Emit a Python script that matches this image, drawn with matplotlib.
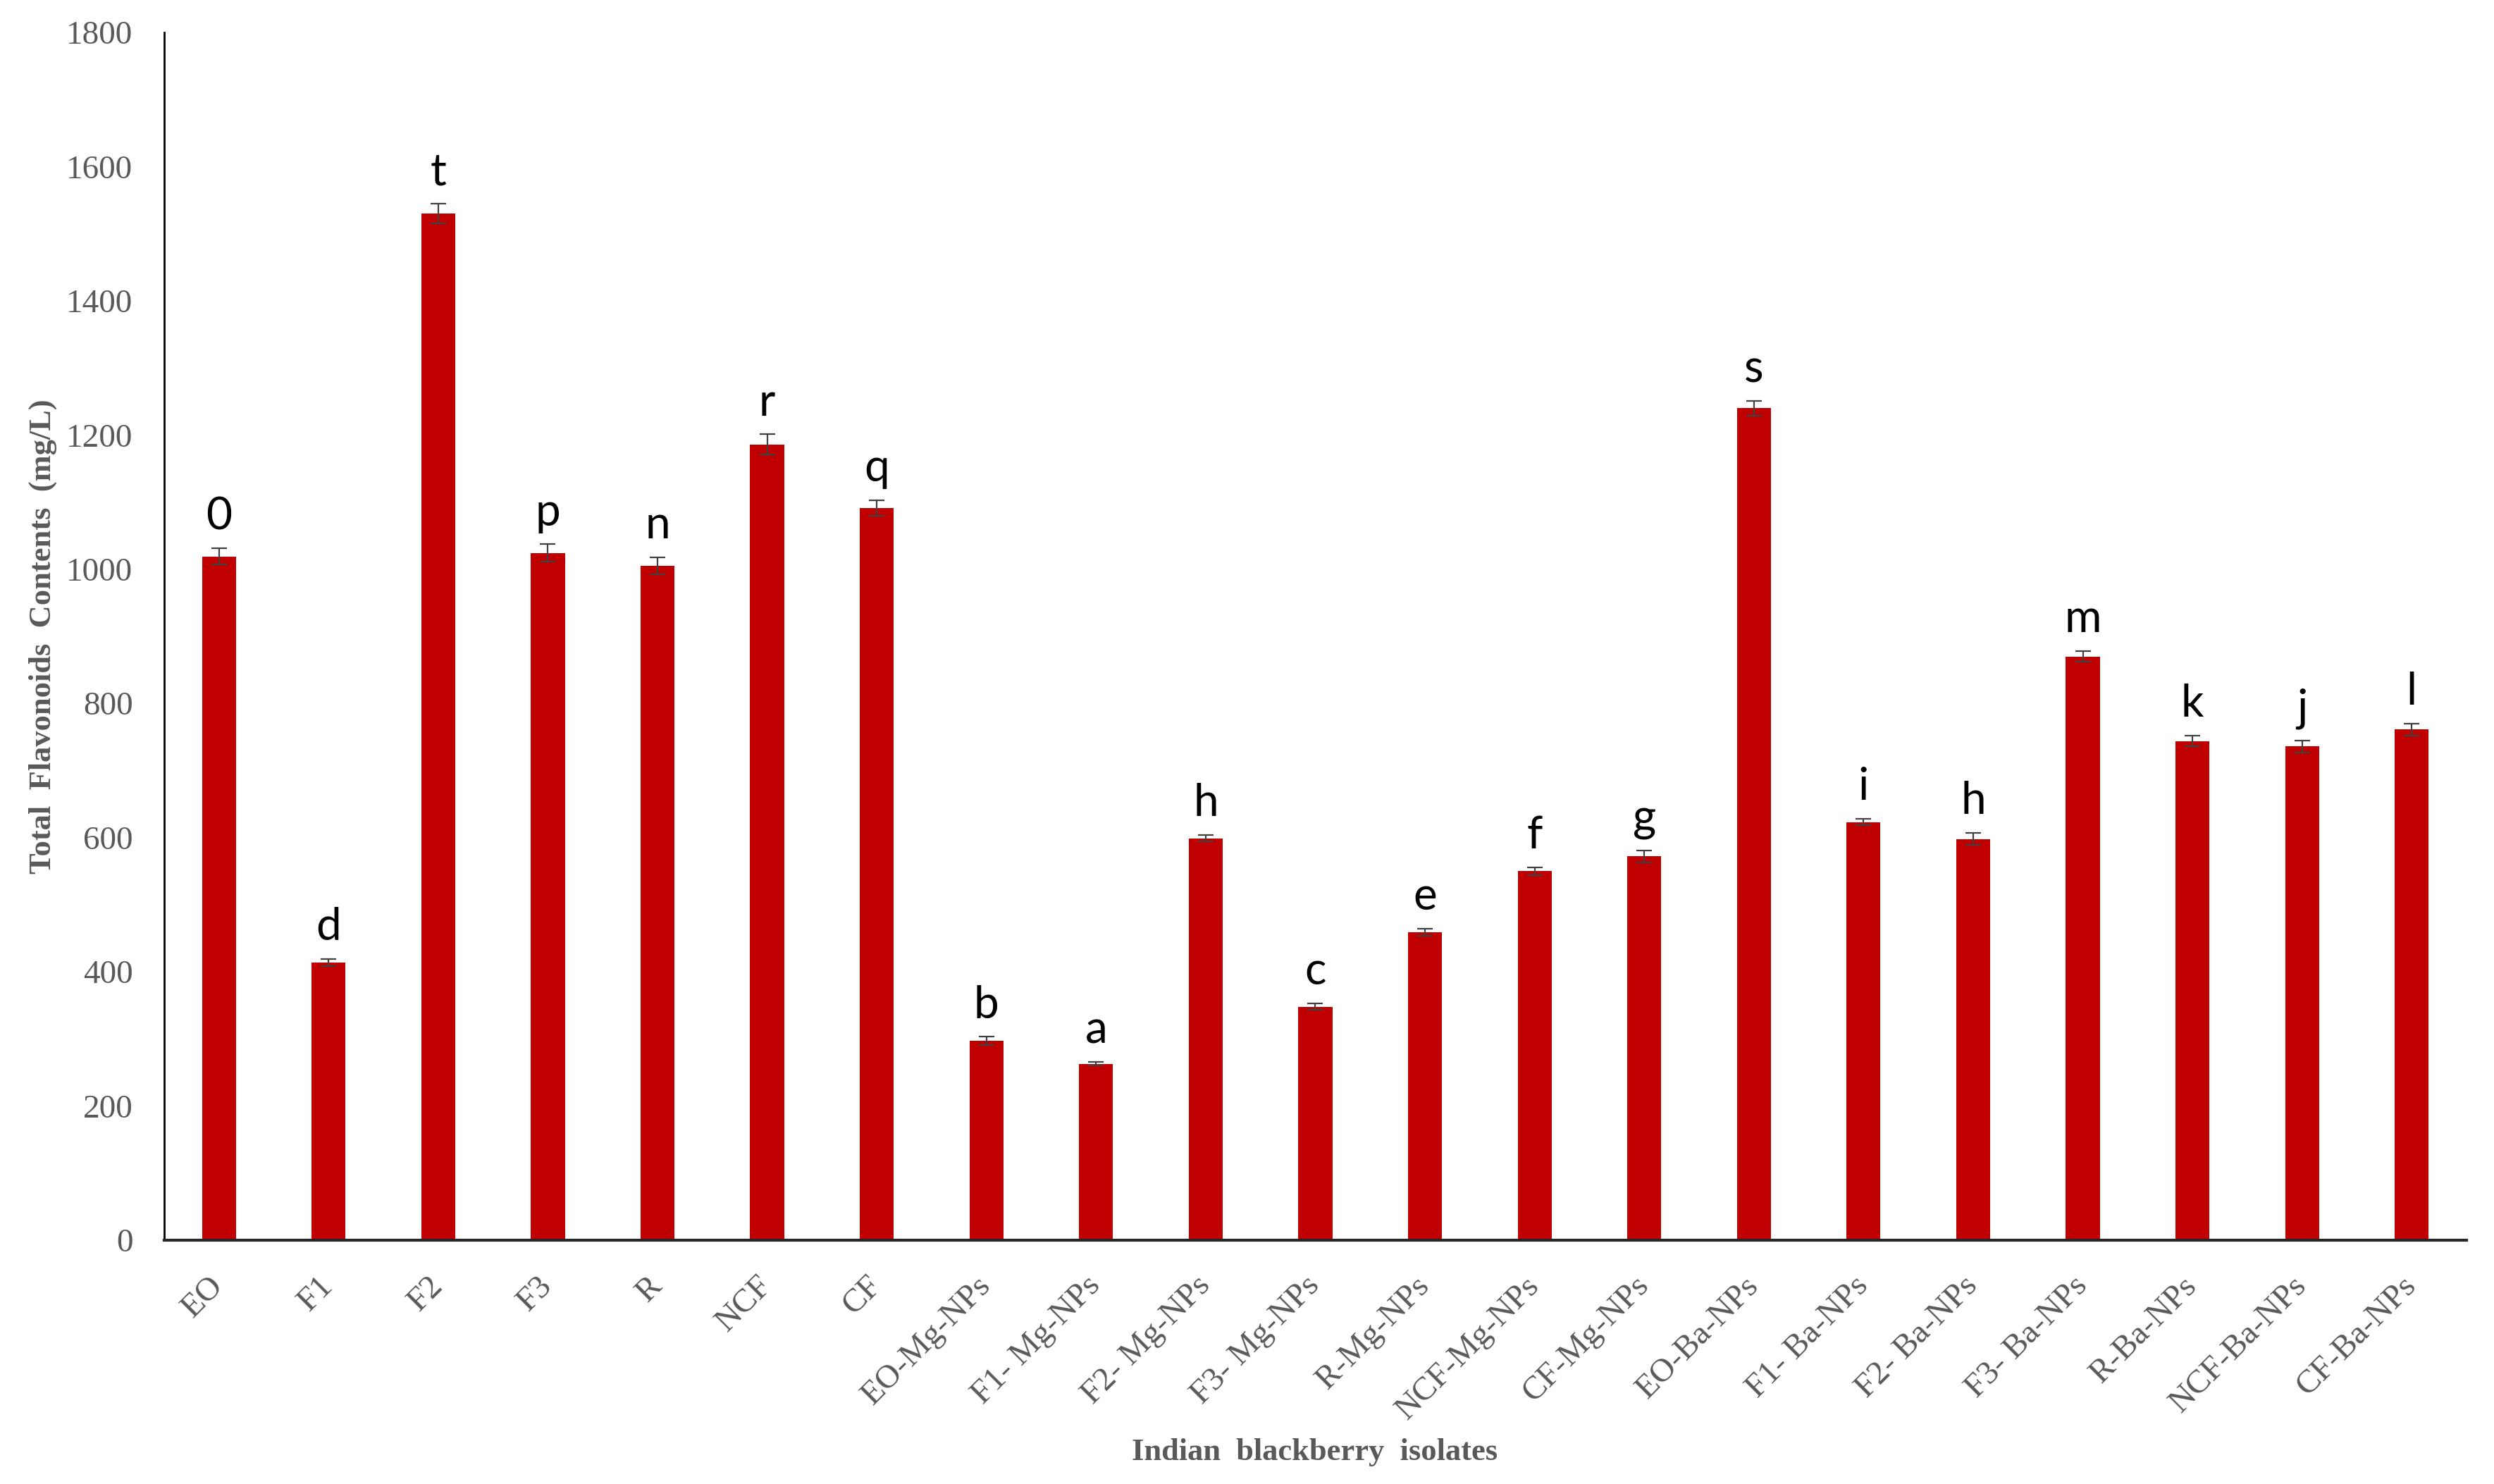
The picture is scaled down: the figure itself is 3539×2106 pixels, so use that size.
import numpy as np
import matplotlib.pyplot as plt

# Total flavonoid content of Indian blackberry isolates
isolados = ["EO", "F1", "F2", "F3", "R", "NCF", "CF",
            "EO-Mg-NPs", "F1- Mg-NPs", "F2- Mg-NPs", "F3- Mg-NPs", "R-Mg-NPs",
            "NCF-Mg-NPs", "CF-Mg-NPs",
            "EO-Ba-NPs", "F1- Ba-NPs", "F2- Ba-NPs", "F3- Ba-NPs", "R-Ba-NPs",
            "NCF-Ba-NPs", "CF-Ba-NPs"]
flavonoides = [1019, 414, 1530, 1024, 1005, 1186, 1091,
               297, 263, 599, 348, 459, 550, 572,
               1240, 623, 598, 870, 744, 736, 761]
erro = [12, 5, 15, 13, 13, 15, 12,
        6, 3, 5, 5, 5, 6, 9,
        11, 5, 9, 8, 8, 9, 9]
letras = ["0", "d", "t", "p", "n", "r", "q",
          "b", "a", "h", "c", "e", "f", "g",
          "s", "i", "h", "m", "k", "j", "l"]

cinza = "#595959"
x = np.arange(len(isolados))

fig = plt.figure(figsize=(35.39, 21.06), dpi=100)
ax = fig.add_axes([0.0658, 0.1643, 0.9232, 0.8139])

ax.bar(x, flavonoides, width=0.31, color="#C00000", zorder=2)
ax.errorbar(x, flavonoides, yerr=erro, fmt="none", ecolor="#404040",
            elinewidth=1.6, capsize=8, capthick=1.6, zorder=3)

# letras de significância acima das barras
for xi, v, e, l in zip(x, flavonoides, erro, letras):
    ax.text(xi, v + e + 28, l, ha="center", va="baseline",
            fontsize=46, family="Lato", color="black")

ax.set_xlim(-0.5, len(isolados) - 0.5)
ax.set_ylim(0, 1800)
ax.set_yticks(range(0, 1801, 200))
ax.set_xticks(x)
ax.set_xticklabels(isolados, rotation=45, ha="right", va="center",
                   rotation_mode="anchor", family="Liberation Serif",
                   fontsize=34, color=cinza)
for t in ax.get_yticklabels():
    t.set_family("Liberation Serif")
    t.set_fontsize(34)
    t.set_color(cinza)

ax.tick_params(axis="both", length=0)
ax.tick_params(axis="y", pad=32)
ax.tick_params(axis="x", pad=42)

for s in ["top", "right"]:
    ax.spines[s].set_visible(False)
ax.spines["left"].set_color("black")
ax.spines["left"].set_linewidth(2)
ax.spines["bottom"].set_color("#262626")
ax.spines["bottom"].set_linewidth(3)

fig.text(61 / 3539, 1 - 903 / 2106, "Total  Flavonoids  Contents  (mg/L)",
         rotation=90, ha="center", va="center", fontsize=32,
         fontweight="bold", family="Liberation Serif", color=cinza)
fig.text(1866 / 3539, 1 - 2061 / 2106, "Indian  blackberry  isolates",
         ha="center", va="center", fontsize=32,
         fontweight="bold", family="Liberation Serif", color=cinza)

fig.savefig("out.png", dpi=100, facecolor="white")
